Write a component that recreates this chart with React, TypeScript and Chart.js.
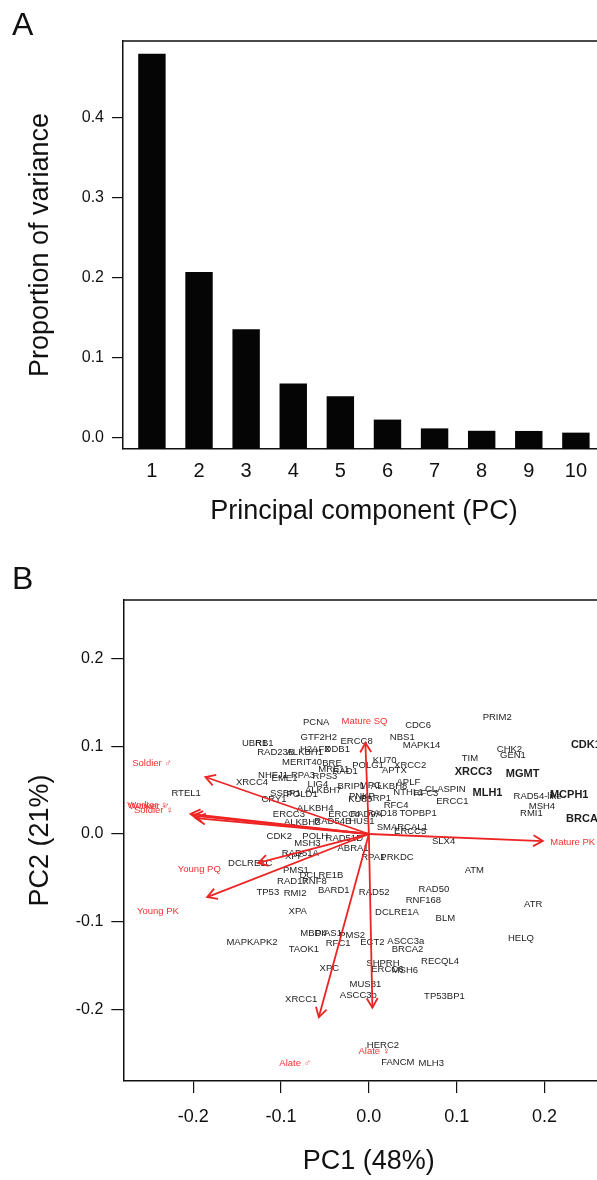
import React, { useEffect, useRef } from 'react';
import { Chart, registerables } from 'chart.js';

Chart.register(...registerables);

const FONT = "'Liberation Sans', Arial, Helvetica, sans-serif";
const RED_LINE = '#ee2424';
const RED_TEXT = '#f53030';
const INK = '#111111';

// ---------- Panel A data ----------
const PC_NUMBERS = [1, 2, 3, 4, 5, 6, 7, 8, 9, 10];
const VARIANCE = [0.48, 0.2075, 0.136, 0.068, 0.052, 0.023, 0.012, 0.009, 0.0088, 0.0067];
const VARIANCE_TICKS = [0, 0.1, 0.2, 0.3, 0.4];
const VARIANCE_RANGE = [-0.01375, 0.496];
const PC_RANGE = [0.386, 10.618];

// ---------- Panel B data ----------
const GENE_NAMES = [
  'PCNA', 'GTF2H2', 'ERCC8', 'UBR1', 'RB1', 'RAD23B', 'ALKBH1', 'H2AFX', 'DDB1', 'MERIT40',
  'BRE', 'MRE11', 'RAD1', 'POLG1', 'KU70', 'XRCC2', 'APTX', 'NBS1', 'CDC6', 'MAPK14',
  'PRIM2', 'TIM', 'CHK2', 'GEN1', 'NHEJ1', 'EME1', 'RPA3', 'RPS3', 'XRCC4', 'RTEL1',
  'LIG4', 'ALKBH7', 'BRIP1', 'MPG', 'ALKBH8', 'APLF', 'NTHL1', 'CLASPIN', 'RFC3', 'ERCC1',
  'SSBP1', 'POLD1', 'CRY1', 'PNKP', 'KU80', 'PARP1', 'RFC4', 'TOPBP1', 'RAD18', 'RAD9A',
  'ALKBH4', 'ERCC3', 'ERCC4', 'ALKBH2', 'RAD54B', 'HUS1', 'SMARCAL1', 'ERCC5', 'SLX4', 'CDK2',
  'POLH', 'RAD51D', 'ABRA1', 'MSH3', 'RAD51A', 'XPF', 'DCLRE1C', 'RPA1', 'PRKDC', 'PMS1',
  'DCLRE1B', 'RAD17', 'RNF8', 'BARD1', 'TP53', 'RMI2', 'RAD52', 'ATM', 'RAD50', 'RNF168',
  'ATR', 'XPA', 'DCLRE1A', 'BLM', 'HELQ', 'MBD4', 'PIAS1', 'PMS2', 'MAPKAPK2', 'RFC1',
  'ECT2', 'ASCC3a', 'BRCA2', 'TAOK1', 'RECQL4', 'SHPRH', 'ERCC6', 'MSH6', 'XPC', 'MUS81',
  'ASCC3b', 'TP53BP1', 'XRCC1', 'HERC2', 'FANCM', 'MLH3', 'RAD54-like', 'MSH4', 'RMI1', 'CDK1',
  'XRCC3', 'MGMT', 'MLH1', 'MCPH1', 'BRCA1',
];
const GENE_PC1 = [
  -0.060, -0.057, -0.014, -0.130, -0.119, -0.106, -0.073, -0.061, -0.036, -0.076,
  -0.042, -0.040, -0.027, -0.001, 0.018, 0.047, 0.029, 0.038, 0.056, 0.060,
  0.146, 0.115, 0.160, 0.164, -0.109, -0.096, -0.075, -0.050, -0.133, -0.208,
  -0.058, -0.052, -0.020, 0.002, 0.023, 0.045, 0.045, 0.087, 0.065, 0.095,
  -0.095, -0.076, -0.108, -0.008, -0.010, 0.008, 0.031, 0.056, 0.015, -0.003,
  -0.061, -0.091, -0.028, -0.076, -0.041, -0.008, 0.038, 0.047, 0.085, -0.102,
  -0.061, -0.028, -0.018, -0.070, -0.078, -0.085, -0.135, 0.005, 0.032, -0.083,
  -0.054, -0.087, -0.062, -0.040, -0.115, -0.084, 0.006, 0.120, 0.074, 0.062,
  0.187, -0.081, 0.032, 0.087, 0.173, -0.063, -0.046, -0.019, -0.133, -0.035,
  0.004, 0.042, 0.044, -0.074, 0.081, 0.016, 0.021, 0.041, -0.045, -0.004,
  -0.012, 0.086, -0.077, 0.016, 0.033, 0.071, 0.192, 0.197, 0.185, 0.247,
  0.119, 0.175, 0.135, 0.228, 0.246,
];
const GENE_PC2 = [
  0.127, 0.110, 0.106, 0.103, 0.103, 0.093, 0.093, 0.097, 0.097, 0.082,
  0.080, 0.074, 0.071, 0.078, 0.084, 0.078, 0.072, 0.110, 0.124, 0.101,
  0.133, 0.086, 0.096, 0.090, 0.067, 0.064, 0.067, 0.066, 0.059, 0.046,
  0.057, 0.050, 0.054, 0.056, 0.054, 0.059, 0.048, 0.051, 0.046, 0.037,
  0.046, 0.045, 0.039, 0.043, 0.039, 0.041, 0.033, 0.024, 0.024, 0.022,
  0.029, 0.022, 0.022, 0.013, 0.014, 0.014, 0.007, 0.003, -0.008, -0.003,
  -0.003, -0.005, -0.016, -0.011, -0.022, -0.026, -0.034, -0.027, -0.027, -0.041,
  -0.047, -0.054, -0.054, -0.064, -0.067, -0.068, -0.067, -0.041, -0.063, -0.076,
  -0.080, -0.088, -0.089, -0.096, -0.119, -0.113, -0.113, -0.116, -0.124, -0.125,
  -0.124, -0.122, -0.131, -0.131, -0.145, -0.148, -0.154, -0.156, -0.153, -0.172,
  -0.184, -0.185, -0.188, -0.241, -0.260, -0.262, 0.043, 0.031, 0.023, 0.102,
  0.071, 0.068, 0.047, 0.044, 0.017,
];
const BOLD_GENES = ['CDK1', 'XRCC3', 'MGMT', 'MLH1', 'MCPH1', 'BRCA1'];

const TRAIT_NAMES = ['Mature SQ', 'Soldier ♂', 'Worker ♀', 'Worker ♂', 'Soldier ♀', 'Young PQ', 'Young PK', 'Mature PK', 'Alate ♂', 'Alate ♀'];
const TRAIT_PC1 = [-0.004, -0.186, -0.203, -0.200, -0.197, -0.126, -0.184, 0.198, -0.057, 0.004];
const TRAIT_PC2 = [0.104, 0.065, 0.023, 0.021, 0.018, -0.033, -0.072, -0.008, -0.209, -0.198];
const TRAIT_LABEL_PC1 = [-0.005, -0.247, -0.252, -0.250, -0.245, -0.193, -0.240, 0.232, -0.084, 0.006];
const TRAIT_LABEL_PC2 = [0.128, 0.081, 0.033, 0.031, 0.027, -0.040, -0.088, -0.009, -0.261, -0.248];

const BIPLOT_TICKS = [-0.2, -0.1, 0, 0.1, 0.2];
const PC1_RANGE = [-0.2795, 0.279];
const PC2_RANGE = [-0.2816, 0.2668];

const fmt = (v: number) => (Math.abs(v) < 1e-9 ? '0.0' : v.toFixed(1));

const boxPlugin = {
  id: 'boxTop',
  afterDraw(chart: any) {
    const { ctx, chartArea: ca } = chart;
    ctx.save();
    ctx.strokeStyle = INK;
    ctx.lineWidth = 1.5;
    ctx.beginPath();
    ctx.moveTo(ca.left, ca.top);
    ctx.lineTo(ca.right, ca.top);
    ctx.lineTo(ca.right, ca.bottom);
    ctx.stroke();
    ctx.restore();
  },
};

const biplotPlugin = {
  id: 'biplotText',
  beforeDatasetsDraw(chart: any) {
    const { ctx } = chart;
    const meta = chart.getDatasetMeta(0);
    ctx.save();
    ctx.textAlign = 'center';
    ctx.textBaseline = 'middle';
    ctx.fillStyle = '#1c1c1c';
    meta.data.forEach((pt: any, i: number) => {
      const name = GENE_NAMES[i];
      ctx.font = BOLD_GENES.includes(name) ? `bold 11px ${FONT}` : `9.5px ${FONT}`;
      ctx.fillText(name, pt.x, pt.y);
    });
    ctx.restore();
  },
  afterDatasetsDraw(chart: any) {
    const { ctx, scales } = chart;
    ctx.save();
    ctx.strokeStyle = RED_LINE;
    ctx.lineWidth = 1.8;
    TRAIT_NAMES.forEach((_, i) => {
      const m = chart.getDatasetMeta(i + 1);
      const p0 = m.data[0];
      const p1 = m.data[1];
      const ang = Math.atan2(p1.y - p0.y, p1.x - p0.x);
      const L = 11;
      const a = Math.PI / 6;
      ctx.beginPath();
      ctx.moveTo(p1.x - L * Math.cos(ang - a), p1.y - L * Math.sin(ang - a));
      ctx.lineTo(p1.x, p1.y);
      ctx.lineTo(p1.x - L * Math.cos(ang + a), p1.y - L * Math.sin(ang + a));
      ctx.stroke();
    });
    ctx.fillStyle = RED_TEXT;
    ctx.font = `9.5px ${FONT}`;
    ctx.textAlign = 'center';
    ctx.textBaseline = 'middle';
    TRAIT_NAMES.forEach((n, i) => {
      ctx.fillText(n, scales.x.getPixelForValue(TRAIT_LABEL_PC1[i]), scales.y.getPixelForValue(TRAIT_LABEL_PC2[i]));
    });
    ctx.restore();
  },
};

function VarianceChart() {
  const ref = useRef<HTMLCanvasElement>(null);
  useEffect(() => {
    const chart = new Chart(ref.current!, {
      type: 'bar',
      data: {
        datasets: [
          {
            data: PC_NUMBERS.map((pc, i) => ({ x: pc, y: VARIANCE[i] })),
            backgroundColor: '#050505',
            borderColor: '#050505',
            borderWidth: 0,
            barPercentage: 0.582,
            categoryPercentage: 1,
            base: VARIANCE_RANGE[0],
          } as any,
        ],
      },
      options: {
        responsive: false,
        animation: false,
        events: [],
        layout: { padding: { top: 41, right: 15, left: 0, bottom: 0 } },
        plugins: { legend: { display: false }, tooltip: { enabled: false } },
        scales: {
          x: {
            type: 'linear',
            offset: false,
            min: PC_RANGE[0],
            max: PC_RANGE[1],
            afterBuildTicks: (s: any) => {
              s.ticks = PC_NUMBERS.map((v) => ({ value: v }));
            },
            afterFit: (s: any) => {
              s.height = 91;
            },
            ticks: { color: INK, font: { size: 20, family: FONT }, padding: 10, maxRotation: 0, autoSkip: false, callback: (v: any) => String(v) },
            grid: { display: false, drawTicks: false },
            border: { display: true, color: INK, width: 1.5 },
            title: { display: true, text: 'Principal component (PC)', color: INK, font: { size: 27, family: FONT }, padding: { top: 0, bottom: 12 } },
          },
          y: {
            type: 'linear',
            min: VARIANCE_RANGE[0],
            max: VARIANCE_RANGE[1],
            afterBuildTicks: (s: any) => {
              s.ticks = VARIANCE_TICKS.map((v) => ({ value: v }));
            },
            afterFit: (s: any) => {
              s.width = 123;
            },
            ticks: { color: INK, font: { size: 16, family: FONT }, padding: 8, callback: (v: any) => fmt(Number(v)) },
            grid: { display: true, drawOnChartArea: false, drawTicks: true, tickLength: 11, color: INK, lineWidth: 1.2 },
            border: { display: true, color: INK, width: 1.5 },
            title: { display: true, text: 'Proportion of variance', color: INK, font: { size: 27, family: FONT }, padding: { top: 24, bottom: 0 } },
          },
        },
      } as any,
      plugins: [boxPlugin],
    });
    return () => chart.destroy();
  }, []);
  return <canvas ref={ref} width={620} height={540} style={{ position: 'absolute', left: 0, top: 0, width: 620, height: 540 }} />;
}

function BiplotChart() {
  const ref = useRef<HTMLCanvasElement>(null);
  useEffect(() => {
    const arrowSets = TRAIT_NAMES.map((n, i) => ({
      label: n,
      data: [
        { x: 0, y: 0 },
        { x: TRAIT_PC1[i], y: TRAIT_PC2[i] },
      ],
      showLine: true,
      borderColor: RED_LINE,
      borderWidth: 1.8,
      pointRadius: 0,
      fill: false,
    }));
    const chart = new Chart(ref.current!, {
      type: 'scatter',
      data: {
        datasets: [
          {
            label: 'genes',
            data: GENE_NAMES.map((_, i) => ({ x: GENE_PC1[i], y: GENE_PC2[i] })),
            pointRadius: 0,
            showLine: false,
          },
          ...arrowSets,
        ] as any,
      },
      options: {
        responsive: false,
        animation: false,
        events: [],
        layout: { padding: { top: 60, right: 6, left: 0, bottom: 0 } },
        plugins: { legend: { display: false }, tooltip: { enabled: false } },
        scales: {
          x: {
            type: 'linear',
            min: PC1_RANGE[0],
            max: PC1_RANGE[1],
            afterBuildTicks: (s: any) => {
              s.ticks = BIPLOT_TICKS.map((v) => ({ value: v }));
            },
            afterFit: (s: any) => {
              s.height = 99;
            },
            ticks: { color: INK, font: { size: 18, family: FONT }, padding: 13, maxRotation: 0, autoSkip: false, callback: (v: any) => fmt(Number(v)) },
            grid: { display: true, drawOnChartArea: false, drawTicks: true, tickLength: 12, color: INK, lineWidth: 1.2 },
            border: { display: true, color: INK, width: 1.5 },
            title: { display: true, text: 'PC1 (48%)', color: INK, font: { size: 27, family: FONT }, padding: { top: 0, bottom: 2 } },
          },
          y: {
            type: 'linear',
            min: PC2_RANGE[0],
            max: PC2_RANGE[1],
            afterBuildTicks: (s: any) => {
              s.ticks = BIPLOT_TICKS.map((v) => ({ value: v }));
            },
            afterFit: (s: any) => {
              s.width = 123.3;
            },
            ticks: { color: INK, font: { size: 16, family: FONT }, padding: 8, callback: (v: any) => fmt(Number(v)) },
            grid: { display: true, drawOnChartArea: false, drawTicks: true, tickLength: 12, color: INK, lineWidth: 1.2 },
            border: { display: true, color: INK, width: 1.5 },
            title: { display: true, text: 'PC2 (21%)', color: INK, font: { size: 27, family: FONT }, padding: { top: 24, bottom: 0 } },
          },
        },
      } as any,
      plugins: [boxPlugin, biplotPlugin],
    });
    return () => chart.destroy();
  }, []);
  return <canvas ref={ref} width={620} height={640} style={{ position: 'absolute', left: 0, top: 540, width: 620, height: 640 }} />;
}

export default function App() {
  const letter: React.CSSProperties = {
    position: 'absolute',
    left: 12,
    fontFamily: FONT,
    fontSize: 32,
    lineHeight: '32px',
    color: INK,
  };
  return (
    <div style={{ position: 'absolute', left: 0, top: 0, width: 597, height: 1180, overflow: 'hidden', background: '#fff' }}>
      <VarianceChart />
      <BiplotChart />
      <div style={{ ...letter, top: 8 }}>A</div>
      <div style={{ ...letter, top: 562 }}>B</div>
    </div>
  );
}
